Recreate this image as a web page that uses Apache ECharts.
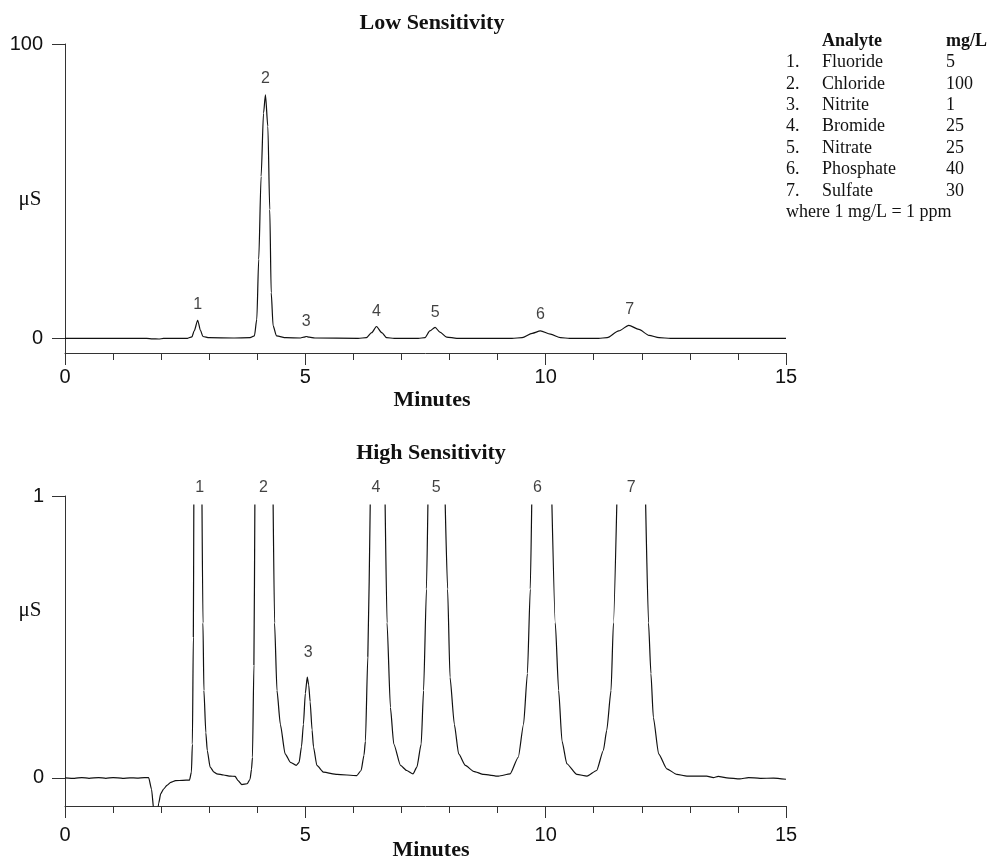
<!DOCTYPE html>
<html>
<head>
<meta charset="utf-8">
<script src="https://cdn.jsdelivr.net/npm/echarts@6/dist/echarts.min.js"></script>
<style>
  html, body { margin: 0; padding: 0; background: #fff; }
  #chart { width: 988px; height: 860px; }
</style>
</head>
<body>
<div id="chart"></div>
<script>
// low sensitivity trace: [minutes, µS]
const lowTrace = [
  [0, 0], [1.7, 0], [1.82, -0.2], [1.95, -0.25], [2.05, -0.05], [2.2, 0], [2.55, 0],
  [2.64, 0.5], [2.69, 2.6], [2.76, 6.1], [2.82, 2.6], [2.87, 0.6], [3.0, 0.2], [3.5, 0.1],
  [3.85, 0.2], [3.94, 0.8], [3.99, 6.4], [4.03, 26.8], [4.08, 55], [4.13, 76.5], [4.17, 82.7],
  [4.22, 72], [4.26, 43.7], [4.29, 15.5], [4.33, 4.2], [4.40, 0.8], [4.60, 0.2], [4.9, 0.1],
  [4.97, 0.4], [5.02, 0.6], [5.08, 0.4], [5.2, 0.1], [6.1, 0],
  [6.27, 0.2], [6.38, 1.9], [6.48, 4.0], [6.59, 1.9], [6.69, 0.2], [6.85, 0],
  [7.35, 0], [7.49, 0.2], [7.59, 2.5], [7.70, 3.7], [7.80, 2.1], [7.94, 0.4], [8.15, 0],
  [9.3, 0], [9.51, 0.2], [9.72, 1.7], [9.89, 2.5], [10.10, 1.4], [10.31, 0.2], [10.5, 0],
  [11.1, 0], [11.28, 0.2], [11.52, 2.5], [11.73, 4.4], [11.94, 3.0], [12.15, 1.0], [12.36, 0.2],
  [12.6, 0], [15, 0]
];

// high sensitivity trace: off-scale peak tops are gaps ('-')
const highTrace = [
  [0, 0], [0.2, -0.002], [0.35, 0.001], [0.5, -0.002], [0.7, 0.001], [0.85, -0.002], [1.0, 0.001],
  [1.2, -0.002], [1.35, 0.0], [1.5, -0.001], [1.65, 0.001], [1.74, 0.001], [1.80, -0.04],
  [1.85, -0.12], [1.90, -0.16], [1.95, -0.09], [1.99, -0.057], [2.05, -0.04], [2.12, -0.027],
  [2.2, -0.016], [2.30, -0.01], [2.45, -0.009], [2.59, -0.008], [2.63, 0.02], [2.65, 0.12],
  [2.67, 0.5], [2.68, 0.97], [2.76, '-'],
  [2.85, 0.97], [2.87, 0.55], [2.89, 0.31], [2.93, 0.16], [2.96, 0.097], [3.02, 0.038], [3.1, 0.02],
  [3.16, 0.014], [3.3, 0.01], [3.44, 0.006], [3.54, 0.005], [3.6, -0.01], [3.68, -0.024],
  [3.79, -0.021], [3.85, -0.005], [3.88, 0.03], [3.90, 0.073], [3.93, 0.4], [3.95, 0.97], [4.1, '-'],
  [4.33, 0.97], [4.36, 0.55], [4.41, 0.31], [4.48, 0.19], [4.58, 0.085], [4.69, 0.055], [4.81, 0.044],
  [4.87, 0.055], [4.92, 0.11], [4.96, 0.19], [5.00, 0.30], [5.04, 0.357], [5.07, 0.33], [5.10, 0.27],
  [5.14, 0.17], [5.17, 0.109], [5.24, 0.044], [5.38, 0.02], [5.66, 0.012], [6.07, 0.008],
  [6.16, 0.026], [6.22, 0.08], [6.25, 0.13], [6.30, 0.43], [6.35, 0.97], [6.5, '-'],
  [6.66, 0.97], [6.70, 0.55], [6.77, 0.25], [6.84, 0.12], [6.98, 0.044], [7.11, 0.026], [7.24, 0.014],
  [7.32, 0.038], [7.41, 0.12], [7.46, 0.31], [7.52, 0.67], [7.55, 0.97], [7.7, '-'],
  [7.91, 0.97], [7.96, 0.67], [8.01, 0.357], [8.10, 0.19], [8.19, 0.085], [8.33, 0.044], [8.50, 0.023],
  [8.71, 0.012], [9.02, 0.006], [9.26, 0.014], [9.43, 0.073], [9.54, 0.19], [9.62, 0.37], [9.68, 0.67],
  [9.71, 0.97], [9.9, '-'],
  [10.13, 0.97], [10.20, 0.55], [10.27, 0.31], [10.34, 0.13], [10.44, 0.05], [10.65, 0.012],
  [10.86, 0.006], [11.06, 0.026], [11.20, 0.097], [11.27, 0.168], [11.36, 0.31], [11.41, 0.55],
  [11.48, 0.97], [11.8, '-'],
  [12.08, 0.97], [12.14, 0.55], [12.19, 0.37], [12.24, 0.215], [12.35, 0.085], [12.52, 0.032],
  [12.73, 0.012], [12.94, 0.006], [13.35, 0.006], [13.49, 0.001], [13.59, 0.005], [13.77, 0.0],
  [14.04, -0.004], [14.22, 0.001], [14.46, -0.002], [14.74, -0.001], [15.0, -0.005]
];

const peakNames = ['1', '2', '3', '4', '5', '6', '7'];
const lowPeakTimes = [2.76, 4.17, 5.02, 6.48, 7.70, 9.89, 11.75];
const lowPeakHeights = [6.1, 82.7, 0.6, 4.0, 3.7, 2.5, 4.4];
const highPeakTimes = [2.80, 4.13, 5.06, 6.47, 7.72, 9.83, 11.78];
const highPeakHeights = [1, 1, 0.357, 1, 1, 1, 1]; // 1 = off scale, label sits on the top edge

const analytes = ['Fluoride', 'Chloride', 'Nitrite', 'Bromide', 'Nitrate', 'Phosphate', 'Sulfate'];
const concentrations = ['5', '100', '1', '25', '25', '40', '30'];

const lowYTicks = [0, 100];
const highYTicks = [0, 1];

const SANS = '"Liberation Sans", Arial, sans-serif';
const SERIF = '"Liberation Serif", "Times New Roman", serif';
const INK = '#111';
const AXIS = '#333';

function xAxisFor(gridIndex, labelMargin) {
  return {
    gridIndex,
    type: 'value',
    min: 0,
    max: 15,
    interval: 5,
    axisLine: { onZero: false, lineStyle: { color: AXIS, width: 1 } },
    axisTick: { length: 12, lineStyle: { color: AXIS } },
    minorTick: { show: true, splitNumber: 5, length: 7, lineStyle: { color: AXIS } },
    axisLabel: { margin: labelMargin, fontSize: 20, fontFamily: SANS, color: INK },
    splitLine: { show: false },
    minorSplitLine: { show: false }
  };
}

function yAxisFor(gridIndex, min, max, ticks, labelMargin) {
  return {
    gridIndex,
    type: 'value',
    min,
    max,
    axisLine: { show: true, onZero: false, lineStyle: { color: AXIS, width: 1 } },
    axisTick: { show: true, length: 13, customValues: ticks, lineStyle: { color: AXIS } },
    axisLabel: { customValues: ticks, margin: labelMargin, fontSize: 20, fontFamily: SANS, color: INK },
    splitLine: { show: false }
  };
}

function peakLabels(gridIndex, times, heights, distances) {
  return {
    type: 'scatter',
    xAxisIndex: gridIndex,
    yAxisIndex: gridIndex,
    symbolSize: 0,
    clip: false,
    silent: true,
    data: times.map((t, i) => ({
      value: [t, heights[i]],
      label: { distance: distances[i] }
    })),
    label: {
      show: true,
      position: 'top',
      formatter: (p) => peakNames[p.dataIndex],
      fontSize: 16,
      fontFamily: SANS,
      color: INK
    }
  };
}

function text(x, y, str, opts) {
  return {
    type: 'text',
    x, y,
    silent: true,
    style: Object.assign({
      text: str,
      fill: INK,
      font: '18px ' + SERIF,
      align: 'left',
      verticalAlign: 'middle'
    }, opts || {})
  };
}

// titles, axis names and the analyte table
const graphics = [
  text(432, 23, 'Low Sensitivity', { font: 'bold 22px ' + SERIF, align: 'center' }),
  text(432, 400, 'Minutes', { font: 'bold 22px ' + SERIF, align: 'center' }),
  text(431, 453, 'High Sensitivity', { font: 'bold 22px ' + SERIF, align: 'center' }),
  text(431, 850, 'Minutes', { font: 'bold 22px ' + SERIF, align: 'center' }),
  text(30, 199, 'μS', { font: '21px ' + SERIF, align: 'center' }),
  text(30, 610, 'μS', { font: '21px ' + SERIF, align: 'center' }),
  text(822, 41, 'Analyte', { font: 'bold 18px ' + SERIF }),
  text(946, 41, 'mg/L', { font: 'bold 18px ' + SERIF })
];
analytes.forEach((name, i) => {
  const y = 41 + 21.4 * (i + 1);
  graphics.push(text(786, y, (i + 1) + '.'));
  graphics.push(text(822, y, name));
  graphics.push(text(946, y, concentrations[i]));
});
graphics.push(text(786, 41 + 21.4 * 8, 'where 1 mg/L = 1 ppm'));

const chart = echarts.init(document.getElementById('chart'), null, { renderer: 'canvas' });

chart.setOption({
  backgroundColor: '#fff',
  animation: false,
  grid: [
    { left: 65, width: 721, top: 44, height: 309 },
    { left: 65, width: 721, top: 496, height: 310 }
  ],
  xAxis: [xAxisFor(0, 14.5), xAxisFor(1, 19.5)],
  yAxis: [
    yAxisFor(0, -5, 100, lowYTicks, 22),
    yAxisFor(1, -0.1, 1, highYTicks, 21)
  ],
  series: [
    {
      name: 'Low Sensitivity',
      type: 'line',
      xAxisIndex: 0,
      yAxisIndex: 0,
      data: lowTrace,
      showSymbol: false,
      smooth: 0.25,
      smoothMonotone: 'x',
      lineStyle: { color: INK, width: 1.2 }
    },
    {
      name: 'High Sensitivity',
      type: 'line',
      xAxisIndex: 1,
      yAxisIndex: 1,
      data: highTrace,
      showSymbol: false,
      connectNulls: false,
      smooth: 0.2,
      smoothMonotone: 'x',
      lineStyle: { color: INK, width: 1.2 }
    },
    peakLabels(0, lowPeakTimes, lowPeakHeights, [8, 8, 7, 7, 7, 8, 8]),
    peakLabels(1, highPeakTimes, highPeakHeights, [0, 0, 17, 0, 0, 0, 0])
  ],
  graphic: graphics
});
</script>
</body>
</html>
